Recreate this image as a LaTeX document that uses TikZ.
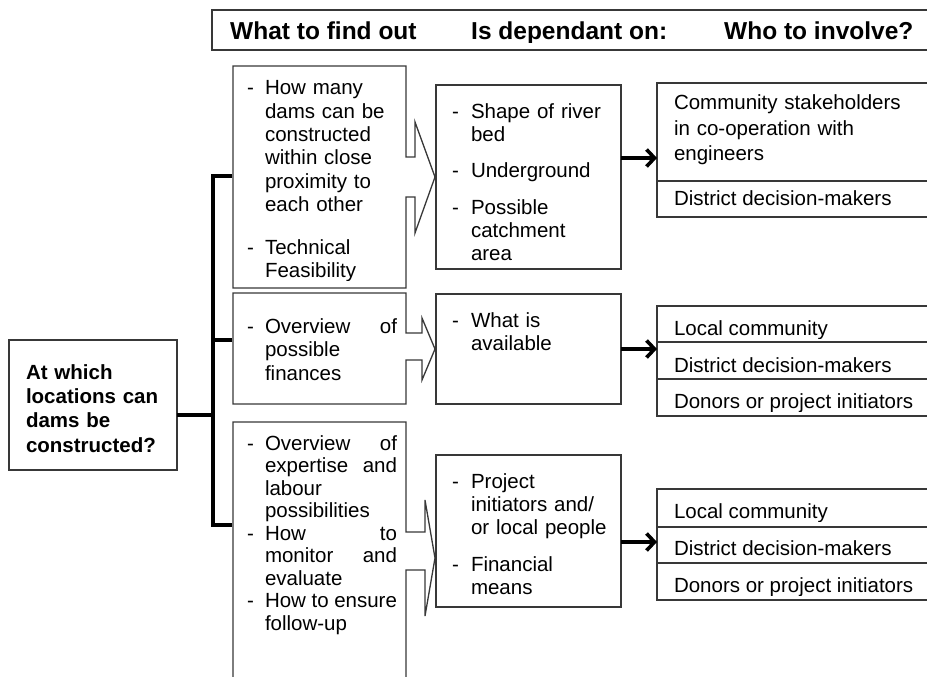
\documentclass[tikz,border=0pt]{standalone}
\usepackage{fontspec}
\setmainfont{Liberation Sans}
\usetikzlibrary{arrows.meta}
\begin{document}
\begin{tikzpicture}[x=1pt,y=-1pt,
  boxline/.style={draw=black!78, line width=1.3pt},
  boxnode/.style={boxline, anchor=north west, inner sep=0pt, outer sep=0pt},
  bracket/.style={draw=black, line width=3.6pt},
  bigarrow/.style={draw=black, line width=3.6pt, -{Straight Barb[length=8pt,width=17pt]}},
  txt/.style={anchor=base west, inner sep=0pt, outer sep=0pt, font=\fontsize{20.5}{23}\selectfont},
  ltxt/.style={txt, text width=132pt, align=left},
  mtxt/.style={txt, text width=140pt, align=left},
  head/.style={anchor=base west, inner sep=0pt, font=\bfseries\fontsize{24.5}{28}\selectfont},
]
\clip (0,0) rectangle (927,677);
\fill[white] (0,0) rectangle (927,677);

% ---------- header ----------
\draw[boxline] (212,10) rectangle (945,50);
\begin{scope}
\clip (212,10) rectangle (927,43);
\node[head] (h1) at (230,40) {What to find out};
\node[head] (h2) at (471,40) {Is dependant on:};
\node[head] (h3) at (724,40) {Who to involve?};
\end{scope}

% ---------- question box ----------
\node[boxnode, minimum width=168pt, minimum height=130pt] (q) at (9,340) {};
\node[txt, text width=150pt, align=left, font=\bfseries\fontsize{20.5}{24.4}\selectfont] (qt) at (26,379)
  {At which\\locations can\\dams be\\constructed?};

% ---------- bracket ----------
\coordinate (l1w) at (232,176);
\coordinate (l2w) at (232,340);
\coordinate (l3w) at (232,525);
\coordinate (bx) at (213,415);
\draw[bracket] (q.east |- bx) -- (bx);
\draw[bracket] (l1w) -- (l1w -| bx) -- (l3w -| bx) -- (l3w);
\draw[bracket] (l2w -| bx) -- (l2w);

% ---------- left callout boxes ----------
\draw[boxline] (233,66) -- (406,66) -- (406,157) -- (415,157) -- (415,122)
  -- (435,177) coordinate (t1) -- (415,233) -- (415,197) -- (406,197) -- (406,288) -- (233,288) -- cycle;
\draw[boxline] (233,293) -- (406,293) -- (406,333) -- (422,333) -- (422,318)
  -- (435,349) coordinate (t2) -- (422,380) -- (422,360) -- (406,360) -- (406,404) -- (233,404) -- cycle;
\draw[boxline] (233,700) -- (233,422) -- (406,422) -- (406,532) -- (425,532) -- (425,500)
  -- (435,558) coordinate (t3) -- (425,616) -- (425,570) -- (406,570) -- (406,700);

% left box 1 text
\begin{scope}
\clip (233,66) rectangle (406,280);
\node[txt] (d11) at (247,95) {-};
\node[ltxt, font=\fontsize{20.5}{23.3}\selectfont] (l11) at (265,95)
  {How many\\dams can be\\constructed\\within close\\proximity to\\each other};
\node[txt] (d12) at (247,254) {-};
\node[ltxt, font=\fontsize{20.5}{23.3}\selectfont] (l12) at (265,254)
  {Technical\\Feasibility};
\end{scope}

% left box 2 text
\node[txt] (d21) at (247,333) {-};
\node[ltxt, font=\fontsize{20.5}{23.5}\selectfont] (l21) at (265,333)
  {Overview\hfill of\\possible\\finances};

% left box 3 text
\node[txt] (d31) at (247,450) {-};
\node[txt] (d32) at (247,540) {-};
\node[txt] (d33) at (247,607.5) {-};
\node[ltxt, font=\fontsize{20.5}{22.5}\selectfont] (l31) at (265,450)
  {Overview\hfill of\\expertise\hfill and\\labour\\possibilities\\How\hfill to\\monitor\hfill and\\evaluate\\How\hfill to\hfill ensure\\follow-up};

% ---------- middle boxes ----------
\node[boxnode, minimum width=185pt, minimum height=184pt] (m1) at (436,85) {};
\node[boxnode, minimum width=185pt, minimum height=110pt] (m2) at (436,294) {};
\node[boxnode, minimum width=185pt, minimum height=152pt] (m3) at (436,455) {};

\node[txt] (e11) at (452,118) {-};
\node[mtxt] (n11) at (471,118) {Shape of river\\bed};
\node[txt] (e12) at (452,177) {-};
\node[mtxt] (n12) at (471,177) {Underground};
\node[txt] (e13) at (452,214) {-};
\node[mtxt] (n13) at (471,214) {Possible\\catchment\\area};

\node[txt] (e21) at (452,327) {-};
\node[mtxt] (n21) at (471,327) {What is\\available};

\node[txt] (e31) at (452,488) {-};
\node[mtxt] (n31) at (471,488) {Project\\initiators and/\\or local people};
\node[txt] (e32) at (452,571) {-};
\node[mtxt] (n32) at (471,571) {Financial\\means};

% ---------- right boxes ----------
\node[boxnode, minimum width=290pt, minimum height=134pt] (r1) at (657,83) {};
\draw[boxline] (657,181) -- (945,181);
\node[boxnode, minimum width=290pt, minimum height=110pt] (r2) at (657,306) {};
\draw[boxline] (657,342) -- (945,342);
\draw[boxline] (657,379) -- (945,379);
\node[boxnode, minimum width=290pt, minimum height=111pt] (r3) at (657,489) {};
\draw[boxline] (657,527) -- (945,527);
\draw[boxline] (657,563) -- (945,563);

\node[mtxt, text width=250pt, font=\fontsize{20.5}{25.3}\selectfont] (c11) at (674,110)
  {Community stakeholders\\in co-operation with\\engineers};
\node[txt] (c12) at (674,205) {District decision-makers};

\begin{scope}
\clip (657,306) rectangle (927,338);
\node[txt] (c21) at (674,335) {Local community};
\end{scope}
\node[txt] (c22) at (674,372) {District decision-makers};
\begin{scope}
\clip (657,379) rectangle (927,411);
\node[txt] (c23) at (674,408) {Donors or project initiators};
\end{scope}

\begin{scope}
\clip (657,489) rectangle (927,521);
\node[txt] (c31) at (674,518) {Local community};
\end{scope}
\node[txt] (c32) at (674,555) {District decision-makers};
\begin{scope}
\clip (657,563) rectangle (927,595);
\node[txt] (c33) at (674,592) {Donors or project initiators};
\end{scope}

% ---------- arrows ----------
\coordinate (a1) at (640,158);
\coordinate (a2) at (640,349);
\coordinate (a3) at (640,542);
\draw[bigarrow] (m1.east |- a1) -- (r1.west |- a1);
\draw[bigarrow] (m2.east |- a2) -- (r2.west |- a2);
\draw[bigarrow] (m3.east |- a3) -- (r3.west |- a3);
\end{tikzpicture}
\end{document}
